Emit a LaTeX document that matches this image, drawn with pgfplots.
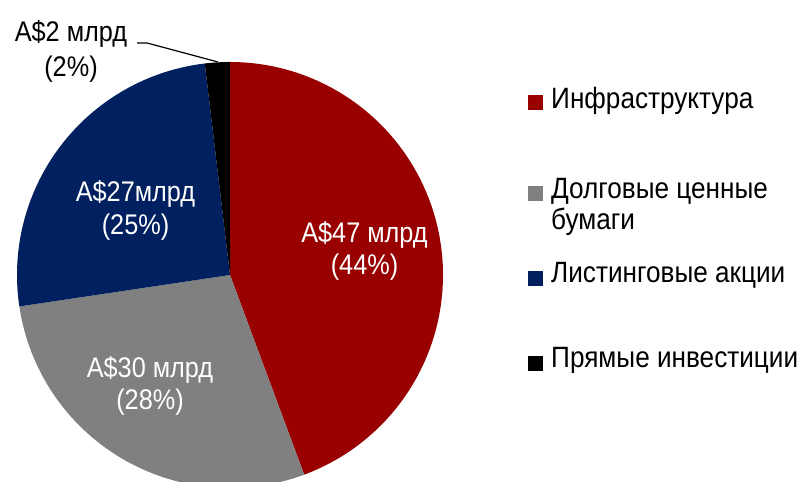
\documentclass[border=0pt]{standalone}
\usepackage{pgfplots}
\pgfplotsset{compat=1.18}
\usepackage{fontspec}
\setmainfont[FakeStretch=0.89]{Liberation Sans}
\definecolor{infra}{HTML}{990000}
\definecolor{debt}{HTML}{808080}
\definecolor{listed}{HTML}{002060}
\definecolor{direct}{HTML}{000000}
\begin{document}
\begin{tikzpicture}[x=1bp,y=1bp]
\useasboundingbox (0,0) rectangle (803,482);
\clip (0,0) rectangle (803,482);
% data: A$ bn
\def\vInfra{47}
\def\vDebt{30}
\def\vListed{27}
\def\vDirect{2}
\pgfmathsetmacro{\tot}{\vInfra+\vDebt+\vListed+\vDirect}
\pgfmathsetmacro{\aA}{90}
\pgfmathsetmacro{\aB}{\aA-360*(\vInfra/\tot)}
\pgfmathsetmacro{\aC}{\aB-360*(\vDebt/\tot)}
\pgfmathsetmacro{\aD}{\aC-360*(\vListed/\tot)}
\pgfmathsetmacro{\aE}{\aD-360*(\vDirect/\tot)}
\begin{axis}[at={(230bp,207bp)}, anchor=center, scale only axis,
  width=426bp, height=426bp, xmin=-1, xmax=1, ymin=-1, ymax=1,
  hide axis, clip=false]
\addplot[fill=infra, draw=none, domain=\aB:\aA, samples=120] ({cos(x)},{sin(x)}) -- (axis cs:0,0) -- cycle;
\addplot[fill=debt, draw=none, domain=\aC:\aB, samples=120] ({cos(x)},{sin(x)}) -- (axis cs:0,0) -- cycle;
\addplot[fill=listed, draw=none, domain=\aD:\aC, samples=120] ({cos(x)},{sin(x)}) -- (axis cs:0,0) -- cycle;
\addplot[fill=direct, draw=none, domain=\aE:\aD, samples=20] ({cos(x)},{sin(x)}) -- (axis cs:0,0) -- cycle;
\end{axis}
% slice labels
\begin{scope}[every node/.style={anchor=base, inner sep=0pt, font=\fontsize{28.5}{32}\selectfont}]
\node[white] at (364.5,239) {A\$47 млрд};
\node[white] at (364.5,207) {(44\%)};
\node[white] at (135.5,280) {A\$27млрд};
\node[white] at (135.5,247) {(25\%)};
\node[white] at (150,104) {A\$30 млрд};
\node[white] at (150,72) {(28\%)};
\node[black] at (71,440) {A\$2 млрд};
\node[black] at (71,405) {(2\%)};
\end{scope}
\draw[black, line width=1.2bp] (137,439) -- (147,439) -- (218,420);
% legend
\begin{scope}[every node/.style={anchor=base west, inner sep=0pt, font=\fontsize{29.5}{31}\selectfont}]
\fill[infra] (528,372) rectangle (543,387);
\node at (551,373) {Инфраструктура};
\fill[debt] (528,281) rectangle (543,296);
\node at (551,283) {Долговые ценные};
\node at (551,252) {бумаги};
\fill[listed] (528,196) rectangle (543,211);
\node at (551,199) {Листинговые акции};
\fill[direct] (528,111) rectangle (543,126);
\node at (551,114) {Прямые инвестиции};
\end{scope}
\end{tikzpicture}
\end{document}
